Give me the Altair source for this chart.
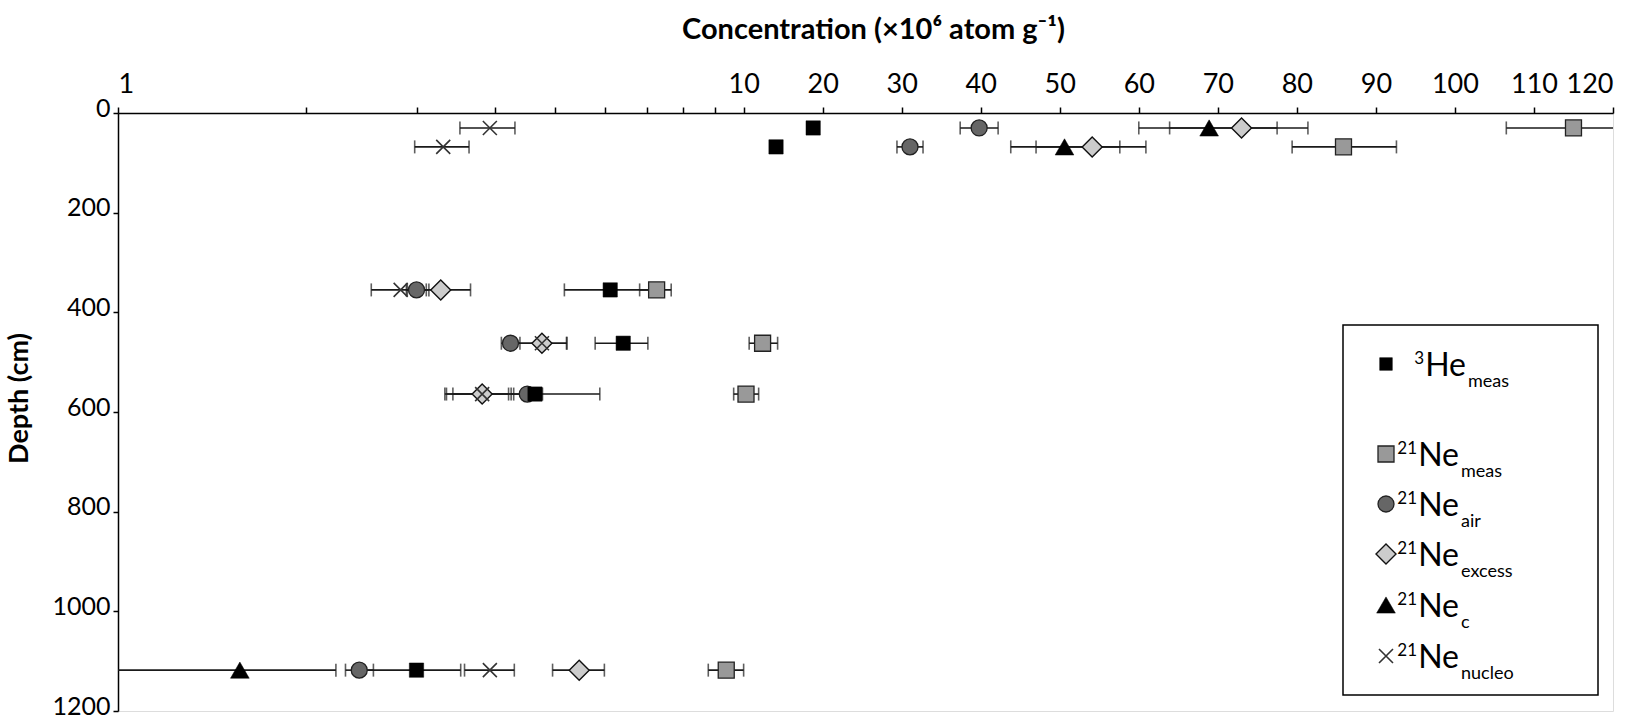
import math
import altair as alt
import pandas as pd

# ---------------- data ----------------
depths = [30, 68, 355, 462, 564, 1118]

he3_meas_v = [18.8, 14.1, 6.12, 6.42, 4.64, 3.00]
he3_meas_lo = [18.5, 13.6, 5.17, 5.79, 3.33, 2.47]
he3_meas_hi = [19.1, 14.6, 7.07, 7.03, 5.89, 3.53]

ne_meas_v = [115.0, 85.9, 7.26, 12.4, 10.3, 9.38]
ne_meas_lo = [106.5, 79.4, 6.82, 10.7, 9.64, 8.78]
ne_meas_hi = [123.5, 92.6, 7.66, 14.3, 11.9, 10.0]

ne_air_v = [39.8, 31.05, 3.00, 4.24, 4.51, 2.43]
ne_air_lo = [37.4, 29.4, 2.89, 4.10, 4.25, 2.31]
ne_air_hi = [42.2, 32.7, 3.11, 4.39, 4.77, 2.56]

ne_excess_v = [73.0, 54.1, 3.28, 4.76, 3.82, 5.46]
ne_excess_lo = [63.9, 47.0, 2.90, 4.31, 3.43, 4.95]
ne_excess_hi = [81.4, 60.9, 3.66, 5.21, 4.21, 5.99]

ne_c_depths = [30, 68, 1118]
ne_c_v = [68.9, 50.6, 1.566]
ne_c_lo = [60.0, 43.8, 0.90]
ne_c_hi = [77.5, 57.6, 2.23]

ne_nucleo_v = [3.93, 3.31, 2.83, 4.76, 3.82, 3.93]
ne_nucleo_lo = [3.52, 2.98, 2.54, 4.30, 3.35, 3.58]
ne_nucleo_hi = [4.31, 3.64, 3.14, 5.22, 4.29, 4.30]

x_tick_values = [1, 2, 3, 4, 5, 6, 7, 8, 9, 10, 20, 30, 40, 50, 60, 70, 80, 90, 100, 110, 120]
y_tick_values = [0, 200, 400, 600, 800, 1000, 1200]

legend_sup = ["3", "21", "21", "21", "21", "21"]
legend_main = ["He", "Ne", "Ne", "Ne", "Ne", "Ne"]
legend_sub = ["meas", "meas", "air", "excess", "c", "nucleo"]

# ---------------- build table ----------------
rows = []
def add(name, ds, v, lo, hi):
    for d, a, b, c in zip(ds, v, lo, hi):
        rows.append(dict(series=name, depth=d, v=a, lo=b, hi=c))

add("He3_meas", depths, he3_meas_v, he3_meas_lo, he3_meas_hi)
add("Ne_meas", depths, ne_meas_v, ne_meas_lo, ne_meas_hi)
add("Ne_air", depths, ne_air_v, ne_air_lo, ne_air_hi)
add("Ne_excess", depths, ne_excess_v, ne_excess_lo, ne_excess_hi)
add("Ne_c", ne_c_depths, ne_c_v, ne_c_lo, ne_c_hi)
add("Ne_nucleo", depths, ne_nucleo_v, ne_nucleo_lo, ne_nucleo_hi)
df = pd.DataFrame(rows)

# broken axis: log 1-10, linear 10-120
LIN = 1.3896 / 110.0
def pos(v):
    return math.log10(v) if v <= 10 else 1 + (v - 10) * LIN
def expr(f):
    return f"datum.{f} <= 10 ? log(datum.{f})/LN10 : 1 + (datum.{f} - 10)*{LIN}"
XMAX = pos(120)

label_expr = (
    "datum.value > 0.05 && datum.value < 0.98 ? '' : "
    "(datum.value <= 1.001 ? format(pow(10, datum.value), '.0f') : "
    f"format((datum.value - 1)/{LIN} + 10, '.0f'))"
)

FONT = "Lato"
xaxis = alt.Axis(
    orient="top", values=[pos(t) for t in x_tick_values], labelExpr=label_expr,
    title="Concentration (×10⁶ atom g⁻¹)", titleFontSize=29, titleFontWeight="bold",
    titleX=755, titleY=-84, titleBaseline="middle", titleAlign="center",
    labelFontSize=27, labelPadding=9, tickSize=6, tickWidth=1.5, tickColor="black",
    domainColor="black", domainWidth=1.5, grid=False, labelColor="black",
    titleColor="black", labelOverlap=False, labelFont=FONT, titleFont=FONT,
)
yaxis = alt.Axis(
    orient="left", values=y_tick_values, format="d", title="Depth (cm)", titleFontSize=27,
    titleFontWeight="bold", titleX=-99, titleY=285, titleBaseline="middle",
    titleAlign="center", titleAngle=270, labelFontSize=25, labelPadding=3,
    labelOffset=-5, tickSize=5, tickWidth=1.5, tickColor="black", domainColor="black",
    domainWidth=1.5, grid=False, labelColor="black", titleColor="black",
    labelFont=FONT, titleFont=FONT,
)
xscale = alt.Scale(domain=[0, XMAX], nice=False, zero=False)
yscale = alt.Scale(domain=[0, 1200], reverse=True, nice=False, zero=False)

def X(f):
    return alt.X(f"{f}:Q", scale=xscale, axis=xaxis)
Y = alt.Y("depth:Q", scale=yscale, axis=yaxis)

base = alt.Chart(df).transform_calculate(px=expr("v"), plo=expr("lo"), phi=expr("hi"))

ecol = "#1a1a1a"
errrule = base.mark_rule(strokeWidth=1.6, color=ecol, clip=True).encode(
    x=X("plo"), x2="phi:Q", y=Y)
caps = base.transform_fold(["plo", "phi"], as_=["k", "pv"]).mark_tick(
    orient="vertical", size=13, thickness=1.6, color=ecol, clip=True
).encode(x=X("pv"), y=Y)

def series(name):
    return base.transform_filter(alt.datum.series == name)

XPATH = "M-1,-1L1,1M-1,1L1,-1"
style = {
    "Ne_meas": dict(shape="square", size=256, fill="#999999", stroke="#222222", strokeWidth=1.3, filled=True),
    "Ne_air": dict(shape="circle", size=256, fill="#666666", stroke="#222222", strokeWidth=1.3, filled=True),
    "Ne_excess": dict(shape="diamond", size=400, fill="#cccccc", stroke="#111111", strokeWidth=1.4, filled=True),
    "Ne_nucleo": dict(shape=XPATH, size=196, stroke="#333333", strokeWidth=1.6, filled=False),
    "He3_meas": dict(shape="square", size=205, fill="#000000", stroke="#000000", strokeWidth=0.5, filled=True),
    "Ne_c": dict(shape="triangle-up", size=350, fill="#000000", stroke="#000000", strokeWidth=0.5, filled=True),
}
order = ["Ne_meas", "Ne_air", "Ne_excess", "Ne_nucleo", "He3_meas", "Ne_c"]
point_layers = [
    series(n).mark_point(opacity=1, **style[n]).encode(x=X("px"), y=Y) for n in order
]

# ---------------- legend (drawn in pixel space) ----------------
one = pd.DataFrame({"k": [0]})
leg = [alt.Chart(one).mark_rect(fill="white", stroke="black", strokeWidth=1.5).encode(
    x=alt.value(1225), x2=alt.value(1480), y=alt.value(212), y2=alt.value(582))]
leg_keys = ["He3_meas", "Ne_meas", "Ne_air", "Ne_excess", "Ne_c", "Ne_nucleo"]
leg_y = [251, 341, 391, 441, 492, 543]
for i, key in enumerate(leg_keys):
    st = dict(style[key])
    if key == "He3_meas":
        st["size"] = 160
    leg.append(alt.Chart(one).mark_point(opacity=1, **st).encode(
        x=alt.value(1268), y=alt.value(leg_y[i])))
    right = 1348 if i == 0 else 1341
    main_w = 41
    leg.append(alt.Chart(one).mark_text(
        text=legend_main[i], font=FONT, fontSize=32, align="right",
        baseline="alphabetic", color="black").encode(
        x=alt.value(right), y=alt.value(leg_y[i] + 12)))
    leg.append(alt.Chart(one).mark_text(
        text=legend_sup[i], font=FONT, fontSize=17, align="right",
        baseline="alphabetic", color="black").encode(
        x=alt.value(right - main_w - 1), y=alt.value(leg_y[i] - 0)))
    leg.append(alt.Chart(one).mark_text(
        text=legend_sub[i], font=FONT, fontSize=18, align="left",
        baseline="alphabetic", color="black").encode(
        x=alt.value(right + 2), y=alt.value(leg_y[i] + 23)))

chart = alt.layer(errrule, caps, *point_layers, *leg).properties(
    width=1495, height=598,
    padding={"left": 118, "top": 113, "right": 19, "bottom": 8},
    autosize="none", background="white",
).configure_view(stroke="black", strokeWidth=1.5).configure(font=FONT)

chart.save("out.html", embed_options={"renderer": "svg", "actions": False})
